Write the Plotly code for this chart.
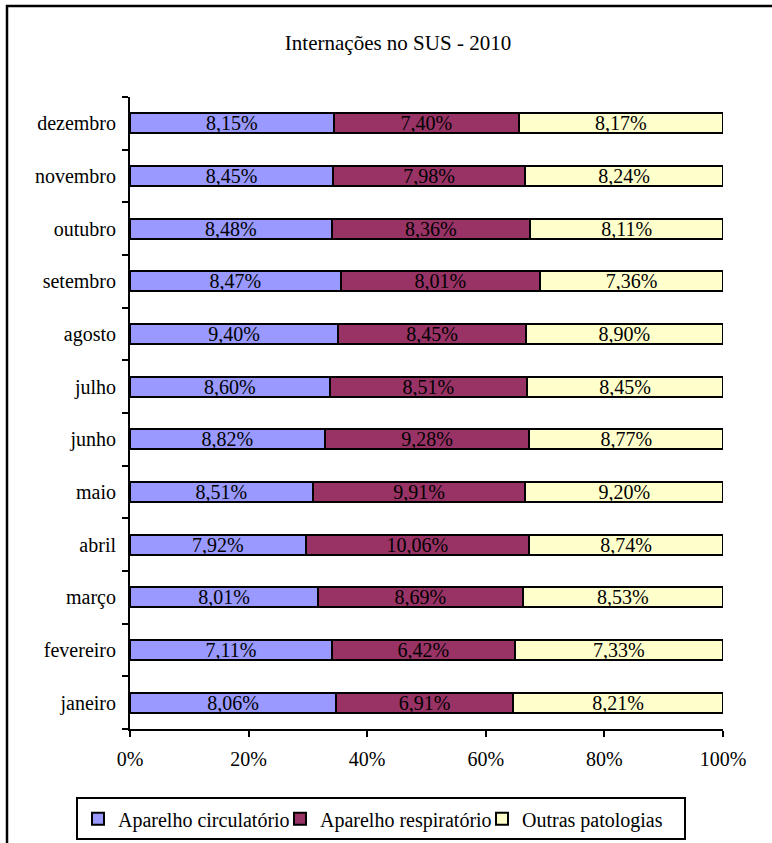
import plotly.graph_objects as go

months = ["janeiro", "fevereiro", "março", "abril", "maio", "junho",
          "julho", "agosto", "setembro", "outubro", "novembro", "dezembro"]
circulatorio = [8.06, 7.11, 8.01, 7.92, 8.51, 8.82, 8.60, 9.40, 8.47, 8.48, 8.45, 8.15]
respiratorio = [6.91, 6.42, 8.69, 10.06, 9.91, 9.28, 8.51, 8.45, 8.01, 8.36, 7.98, 7.40]
outras = [8.21, 7.33, 8.53, 8.74, 9.20, 8.77, 8.45, 8.90, 7.36, 8.11, 8.24, 8.17]
x_ticks = [0, 20, 40, 60, 80, 100]
x_tick_labels = ["0%", "20%", "40%", "60%", "80%", "100%"]

series = [
    ("Aparelho circulatório", circulatorio, "#9999FF"),
    ("Aparelho respiratório", respiratorio, "#993366"),
    ("Outras patologias", outras, "#FFFFCC"),
]

FONT = "Liberation Serif, Times New Roman, serif"
FS = 20

def fmt(v):
    return f"{v:.2f}%".replace(".", ",")

fig = go.Figure()
for name, vals, color in series:
    fig.add_trace(go.Bar(
        name=name, y=months, x=vals, orientation="h",
        marker=dict(color=color, line=dict(color="black", width=2)),
        text=[fmt(v) for v in vals], textposition="inside",
        insidetextanchor="middle", textangle=0,
        insidetextfont=dict(color="black", size=FS, family=FONT),
        hoverinfo="skip",
    ))

fig.update_layout(
    barmode="stack", barnorm="percent", bargap=0.62,
    width=772, height=843,
    margin=dict(l=130, r=49, t=97, b=114, autoexpand=False),
    paper_bgcolor="white", plot_bgcolor="white",
    font=dict(family=FONT, size=FS, color="black"),
    title=dict(text="Internações no SUS - 2010", x=(398/772), xanchor="center",
               y=1 - 43/843, yanchor="middle", font=dict(size=21, family=FONT)),
    uniformtext=dict(mode="show", minsize=FS),
    legend=dict(orientation="h", x=(76 - 130) / 593, xanchor="left",
                y=-0.108, yanchor="top",
                bordercolor="black", borderwidth=2, font=dict(size=FS, family=FONT),
                traceorder="normal", itemwidth=30, tracegroupgap=0,
                entrywidth=157, entrywidthmode="pixels"),
    showlegend=True,
)
fig.update_xaxes(range=[0, 100], tickvals=x_ticks, ticktext=x_tick_labels,
                 showgrid=False, zeroline=False, showline=True, linecolor="black",
                 linewidth=2, ticks="outside", ticklen=6, tickwidth=2, tickcolor="black",
                 tickfont=dict(size=FS), ticklabelstandoff=5, fixedrange=True)
fig.update_yaxes(showgrid=False, showline=True, linecolor="black", linewidth=2,
                 ticks="outside", tickson="boundaries", ticklen=6, tickwidth=2,
                 tickcolor="black", tickfont=dict(size=FS), ticklabelstandoff=8,
                 fixedrange=True)
fig.add_shape(type="rect", xref="paper", yref="paper",
              x0=(7 - 130) / 593, x1=1.2, y0=-0.4, y1=(729 - 6) / 632,
              line=dict(color="black", width=2.5), layer="below")
fig.write_html("out.html")
